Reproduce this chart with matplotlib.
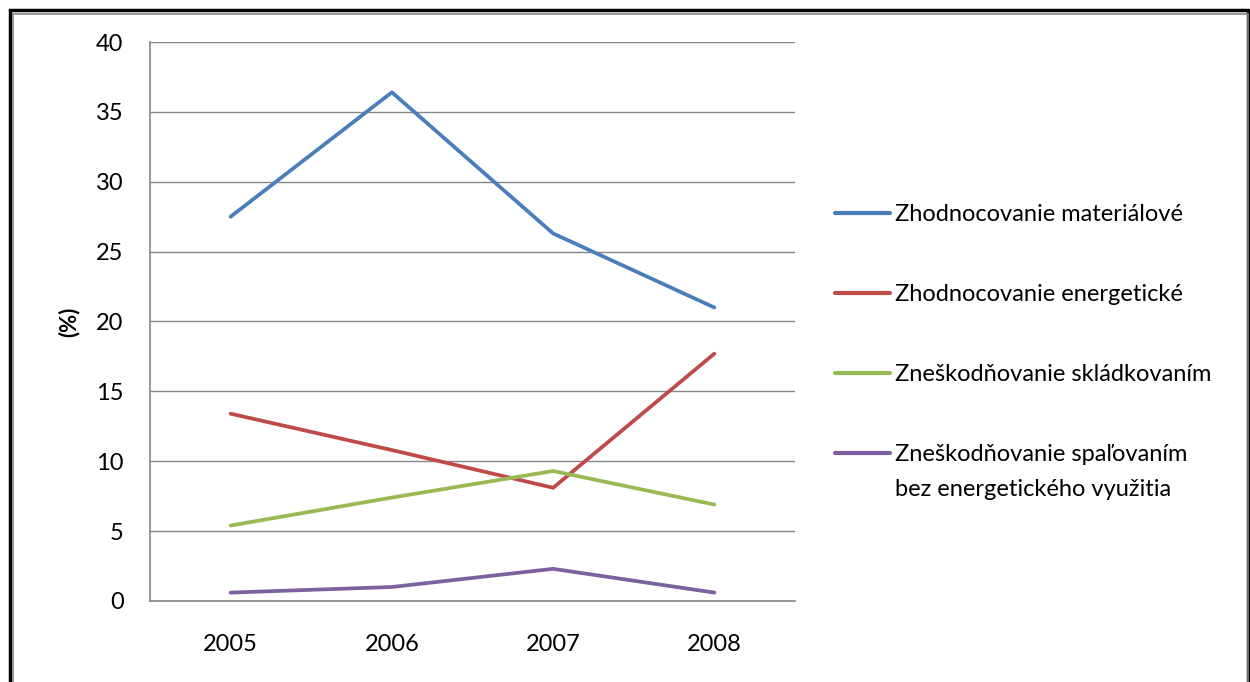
import numpy as np
import matplotlib.pyplot as plt
from matplotlib.patches import Rectangle

years = ['2005', '2006', '2007', '2008']
material = [27.5, 36.4, 26.3, 21.0]
energy = [13.4, 10.8, 8.1, 17.7]
landfill = [5.4, 7.4, 9.3, 6.9]
incineration = [0.6, 1.0, 2.3, 0.6]

labels = ['Zhodnocovanie materiálové',
          'Zhodnocovanie energetické',
          'Zneškodňovanie skládkovaním',
          'Zneškodňovanie spaľovaním\nbez energetického využitia']
colors = ['#4A7EBB', '#BE4B48', '#98B954', '#7D60A0']

plt.rcParams['font.family'] = ['Lato', 'DejaVu Sans']

fig = plt.figure(figsize=(12.5, 6.82), dpi=100)
ax = fig.add_axes([0.12, 0.1188, 0.516, 0.8196])

x = np.arange(len(years))
for vals, lab, c in zip([material, energy, landfill, incineration], labels, colors):
    ax.plot(x, vals, color=c, lw=2.7, label=lab, solid_capstyle='round')

ax.set_xlim(-0.5, 3.5)
ax.set_ylim(0, 40)
ax.set_yticks(range(0, 41, 5))
ax.set_xticks(x)
ax.set_xticklabels(years)
ax.tick_params(length=0, labelsize=17, colors='black')
ax.tick_params(axis='y', pad=19)
ax.tick_params(axis='x', pad=24)
ax.grid(axis='y', color='#868686', lw=1)
ax.set_axisbelow(True)
for s in ['top', 'right']:
    ax.spines[s].set_visible(False)
for s in ['left', 'bottom']:
    ax.spines[s].set_color('#868686')
    ax.spines[s].set_linewidth(1.2)

ax.set_ylabel('(%)', fontsize=16, fontweight='bold', labelpad=12)

leg = ax.legend(loc='upper left', bbox_to_anchor=(1.029, 0.748), frameon=False,
                fontsize=17, labelspacing=2.5, handlelength=2.33, handletextpad=0.2)
for h in leg.get_lines():
    h.set_linewidth(3)
for t in leg.get_texts():
    t.set_linespacing(1.8)
# two-line entry: keep its line level with the first text line
last = leg.get_lines()[-1]
last.set_ydata(np.asarray(last.get_ydata()) + 13.5)

# outer frame
fig.patches.append(Rectangle((0.008, -0.01), 0.99, 0.995, transform=fig.transFigure,
                             fill=False, edgecolor='black', lw=2.5))
fig.patches.append(Rectangle((0.0105, -0.01), 0.988, 0.99, transform=fig.transFigure,
                             fill=False, edgecolor='#868686', lw=1.2))

fig.savefig('out.png', dpi=100)
